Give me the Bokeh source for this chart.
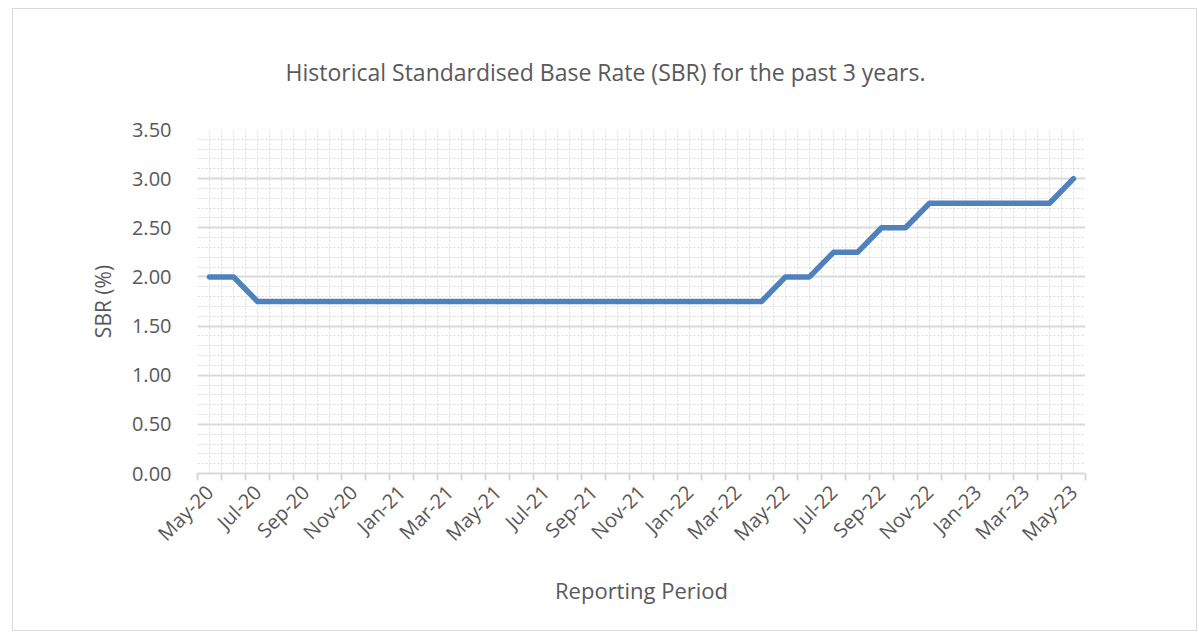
import math
from bokeh.plotting import figure
from bokeh.models import Range1d, FixedTicker, SingleIntervalTicker, NumeralTickFormatter
from bokeh.embed import file_html
from bokeh.resources import INLINE

months = ["May-20", "Jun-20", "Jul-20", "Aug-20", "Sep-20", "Oct-20", "Nov-20", "Dec-20",
          "Jan-21", "Feb-21", "Mar-21", "Apr-21", "May-21", "Jun-21", "Jul-21", "Aug-21",
          "Sep-21", "Oct-21", "Nov-21", "Dec-21", "Jan-22", "Feb-22", "Mar-22", "Apr-22",
          "May-22", "Jun-22", "Jul-22", "Aug-22", "Sep-22", "Oct-22", "Nov-22", "Dec-22",
          "Jan-23", "Feb-23", "Mar-23", "Apr-23", "May-23"]
sbr = [2.00, 2.00, 1.75, 1.75, 1.75, 1.75, 1.75, 1.75,
       1.75, 1.75, 1.75, 1.75, 1.75, 1.75, 1.75, 1.75,
       1.75, 1.75, 1.75, 1.75, 1.75, 1.75, 1.75, 1.75,
       2.00, 2.00, 2.25, 2.25, 2.50, 2.50, 2.75, 2.75,
       2.75, 2.75, 2.75, 2.75, 3.00]

TITLE = "Historical Standardised Base Rate (SBR) for the past 3 years."
X_LABEL = "Reporting Period"
Y_LABEL = "SBR (%)"
FONT = "Open Sans"
TEXT = "#595959"
GRID = "#d9d9d9"

x = list(range(len(months)))
centers = x
boundaries = [i - 0.5 for i in range(len(months) + 1)]
label_ticks = x[::2]

W, H = 1185, 623
p = figure(width=W, height=H, output_backend="svg", toolbar_location=None,
           x_range=Range1d(-0.5, len(months) - 0.5), y_range=Range1d(0, 3.5),
           min_border_left=184, min_border_right=113, min_border_top=120, min_border_bottom=159)
p.margin = (8, 0, 0, 12)
p.styles = {"border": "1px solid #d9d9d9"}
p.outline_line_color = None
p.border_fill_color = "white"
p.background_fill_color = "white"

p.title.text = TITLE
p.title.align = "left"
p.title.text_font = FONT
p.title.text_font_size = "23px"
p.title.text_font_style = "normal"
p.title.text_color = TEXT
p.title.offset = 88
p.title.standoff = 83

# x axis
xa = p.xaxis[0]
xa.ticker = FixedTicker(ticks=label_ticks, minor_ticks=boundaries)
xa.major_label_overrides = {i: months[i] for i in label_ticks}
xa.major_label_orientation = math.pi / 4
xa.major_tick_out = 0
xa.major_tick_in = 0
xa.minor_tick_out = 7
xa.minor_tick_in = 0
xa.minor_tick_line_color = GRID
xa.minor_tick_line_width = 2
xa.axis_line_color = GRID
xa.axis_line_width = 2
xa.major_label_text_font = FONT
xa.major_label_text_font_size = "20px"
xa.major_label_text_color = TEXT
xa.major_label_standoff = 8
xa.axis_label = X_LABEL
xa.axis_label_text_font = FONT
xa.axis_label_text_font_size = "22px"
xa.axis_label_text_font_style = "normal"
xa.axis_label_text_color = TEXT
xa.axis_label_standoff = 16

# y axis
ya = p.yaxis[0]
ya.ticker = SingleIntervalTicker(interval=0.5, num_minor_ticks=5)
ya.formatter = NumeralTickFormatter(format="0.00")
ya.axis_line_color = None
ya.major_tick_line_color = None
ya.minor_tick_line_color = None
ya.major_label_text_font = FONT
ya.major_label_text_font_size = "20px"
ya.major_label_text_color = TEXT
ya.major_label_standoff = 20
ya.axis_label = Y_LABEL
ya.axis_label_text_font = FONT
ya.axis_label_text_font_size = "21px"
ya.axis_label_text_font_style = "normal"
ya.axis_label_text_color = TEXT
ya.axis_label_standoff = 12

# grids
p.ygrid.ticker = SingleIntervalTicker(interval=0.5, num_minor_ticks=5)
p.ygrid.grid_line_color = GRID
p.ygrid.grid_line_width = 2
p.ygrid.minor_grid_line_color = GRID
p.ygrid.minor_grid_line_dash = "2 2"
p.ygrid.minor_grid_line_width = 1

p.xgrid.ticker = FixedTicker(ticks=boundaries, minor_ticks=centers)
p.xgrid.grid_line_color = GRID
p.xgrid.grid_line_dash = "2 2"
p.xgrid.grid_line_width = 1
p.xgrid.minor_grid_line_color = GRID
p.xgrid.minor_grid_line_dash = "2 2"
p.xgrid.minor_grid_line_width = 1

p.line(x, sbr, line_color="#4f81bd", line_width=5.5, line_join="round", line_cap="round")

open("out.html", "w").write(file_html(p, INLINE))
